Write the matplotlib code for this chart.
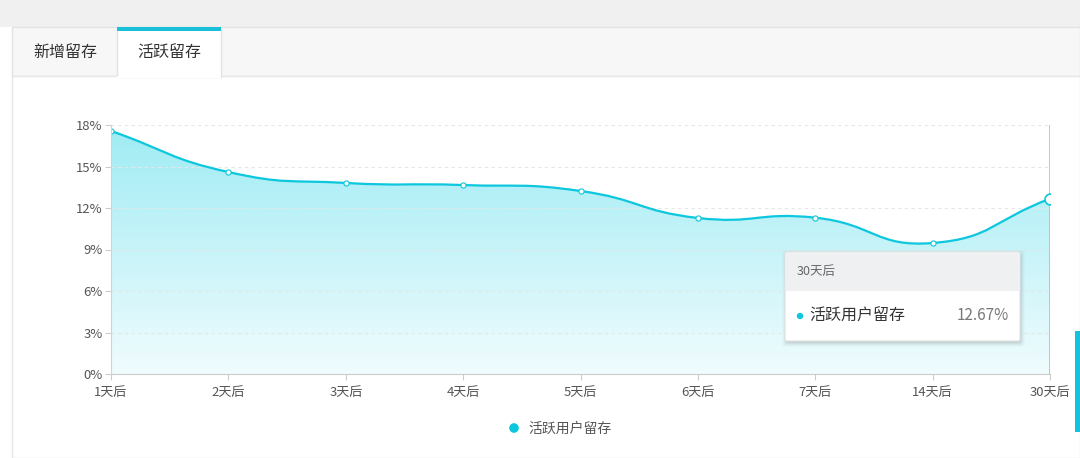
import numpy as np
import matplotlib
matplotlib.use("Agg")
import matplotlib.pyplot as plt
from matplotlib.path import Path
from matplotlib.patches import PathPatch, Rectangle, FancyBboxPatch, Circle
from matplotlib.ticker import FuncFormatter

plt.rcParams['font.family'] = ['Noto Sans CJK SC', 'DejaVu Sans']

# ---------------- data ----------------
categories = ['1天后', '2天后', '3天后', '4天后', '5天后', '6天后', '7天后', '14天后', '30天后']
retention = [17.57, 14.60, 13.81, 13.66, 13.23, 11.28, 11.30, 9.47, 12.67]
series_name = '活跃用户留存'
tabs = ['新增留存', '活跃留存']
y_ticks = [0, 3, 6, 9, 12, 15, 18]
tooltip_title = '30天后'
tooltip_value = '12.67%'

W, H = 1080, 458
CYAN = '#0cc7dd'
fig = plt.figure(figsize=(W / 100, H / 100), dpi=100)

# ---------------- background / tabs (pixel overlay) ----------------
bg = fig.add_axes([0, 0, 1, 1])
bg.set_xlim(0, W)
bg.set_ylim(H, 0)
bg.axis('off')
bg.add_patch(Rectangle((0, 0), W, 27, color='#f0f0f0', lw=0))
bg.add_patch(Rectangle((12, 27), W - 12, 49, facecolor='#f7f7f7', edgecolor='#e3e3e3', lw=1))
bg.add_patch(Rectangle((12, 76), W - 12, H - 76, facecolor='white', edgecolor='#e6e6e6', lw=1))
bg.add_patch(Rectangle((117, 27), 104, 50, facecolor='white', edgecolor='#e3e3e3', lw=1, zorder=3))
bg.add_patch(Rectangle((117, 76), 104, 2, facecolor='white', lw=0, zorder=4))
bg.add_patch(Rectangle((117, 26.5), 104, 4, facecolor='#1ac0d8', lw=0, zorder=5))
bg.text(65, 53, tabs[0], ha='center', va='center', fontsize=11.5, color='#333333')
bg.text(169, 53, tabs[1], ha='center', va='center', fontsize=11.5, color='#333333', zorder=6)
bg.add_patch(Rectangle((1075, 331), 5, 101, facecolor='#12c3da', lw=0))

# legend
bg.add_patch(Circle((514, 428), 4.8, facecolor=CYAN, lw=0))
bg.text(528, 429, series_name, ha='left', va='center', fontsize=10, color='#555555')

# ---------------- chart axes ----------------
x0, x1, ytop, ybot = 111, 1050, 125, 374
ax = fig.add_axes([x0 / W, (H - ybot) / H, (x1 - x0) / W, (ybot - ytop) / H])
ax.patch.set_alpha(0)
n = len(categories)
xs = np.arange(n)
ax.set_xlim(0, n - 1)
ax.set_ylim(0, 18)

# smooth bezier path (echarts-like smoothing)
px_x = (x1 - x0) / (n - 1)
px_y = (ybot - ytop) / 18.0
pts = np.column_stack([xs * px_x, np.array(retention) * px_y])
smooth = 0.5
verts = [tuple(pts[0])]
codes = [Path.MOVETO]
cps = []
for i in range(n):
    p = pts[i]
    prev = pts[i - 1] if i > 0 else p
    nxt = pts[i + 1] if i < n - 1 else p
    v = (nxt - prev) * smooth
    d0 = np.linalg.norm(p - prev)
    d1 = np.linalg.norm(p - nxt)
    s = d0 + d1
    if s == 0:
        cps.append((p, p))
        continue
    cps.append((p - v * d0 / s, p + v * d1 / s))
for i in range(n - 1):
    c1 = cps[i][1]
    c2 = cps[i + 1][0]
    verts += [tuple(c1), tuple(c2), tuple(pts[i + 1])]
    codes += [Path.CURVE4] * 3
verts = np.array(verts)
verts[:, 0] /= px_x
verts[:, 1] /= px_y
line_path = Path(verts, codes)

# filled area with gradient
fill_verts = np.vstack([verts, [[n - 1, 0], [0, 0], verts[0]]])
fill_codes = codes + [Path.LINETO, Path.LINETO, Path.CLOSEPOLY]
fill_path = Path(fill_verts, fill_codes)
grad = np.linspace(0, 1, 256).reshape(-1, 1)
top_c = np.array([160, 236, 244]) / 255
bot_c = np.array([240, 252, 254]) / 255
img = (bot_c[None, None, :] * (1 - grad[:, :, None]) + top_c[None, None, :] * grad[:, :, None])
im = ax.imshow(img, extent=[0, n - 1, 0, max(retention)], origin='lower', aspect='auto', zorder=1)
clip = PathPatch(fill_path, transform=ax.transData, facecolor='none', lw=0)
ax.add_patch(clip)
im.set_clip_path(clip)

ax.add_patch(PathPatch(line_path, facecolor='none', edgecolor=CYAN, lw=1.6, zorder=4))

# axis pointer
ax.axvline(n - 1, color='#bbbbbb', lw=1.2, zorder=3)

# markers
ax.scatter(xs[:-1], retention[:-1], s=14, facecolor='white', edgecolor=CYAN, linewidth=0.8, zorder=5)
ax.scatter([xs[-1]], [retention[-1]], s=62, facecolor='white', edgecolor=CYAN, linewidth=1.2, zorder=6)

# grid, ticks
ax.set_yticks(y_ticks)
ax.yaxis.set_major_formatter(FuncFormatter(lambda v, p: f'{int(v)}%'))
ax.set_xticks(xs)
ax.set_xticklabels(categories)
for yt in y_ticks[1:]:
    ax.axhline(yt, color='#e6e6e6', lw=0.8, ls=(0, (3, 3)), zorder=2)
for s in ['top', 'right']:
    ax.spines[s].set_visible(False)
ax.spines['left'].set_color('#ccd3dd')
ax.spines['bottom'].set_color('#cccccc')
ax.spines['left'].set_zorder(6)
ax.tick_params(axis='both', colors='#cccccc', labelcolor='#555555', labelsize=9.4, length=4, width=0.8)
ax.tick_params(axis='x', pad=4.5)
ax.tick_params(axis='y', pad=2)

# ---------------- tooltip (top overlay) ----------------
ov = fig.add_axes([0, 0, 1, 1], zorder=10)
ov.set_xlim(0, W)
ov.set_ylim(H, 0)
ov.axis('off')
ov.patch.set_alpha(0)
tx0, ty0, tw, th = 785, 252, 235, 89
for k, a in enumerate([0.04, 0.04, 0.03, 0.02, 0.015]):
    ov.add_patch(FancyBboxPatch((tx0 - k + 1, ty0 - k + 2), tw + 2 * k, th + 2 * k,
                                boxstyle='round,pad=0,rounding_size=3', facecolor='black',
                                alpha=a, lw=0, zorder=20))
ov.add_patch(FancyBboxPatch((tx0, ty0), tw, th, boxstyle='round,pad=0,rounding_size=2',
                            facecolor='white', edgecolor='#e2e2e2', lw=0.8, zorder=21))
ov.add_patch(Rectangle((tx0 + 0.5, ty0 + 0.5), tw - 1, 38, facecolor='#eef0f2', lw=0, zorder=22))
ov.text(797, 271, tooltip_title, ha='left', va='center', fontsize=9, color='#666666', zorder=23)
ov.add_patch(Circle((800, 316), 3.2, facecolor=CYAN, lw=0, zorder=23))
ov.text(809, 316, series_name, ha='left', va='center', fontsize=11.5, color='#333333', zorder=23)
ov.text(1009, 316, tooltip_value, ha='right', va='center', fontsize=11, color='#777777', zorder=23)

fig.savefig('out.png', dpi=100)
